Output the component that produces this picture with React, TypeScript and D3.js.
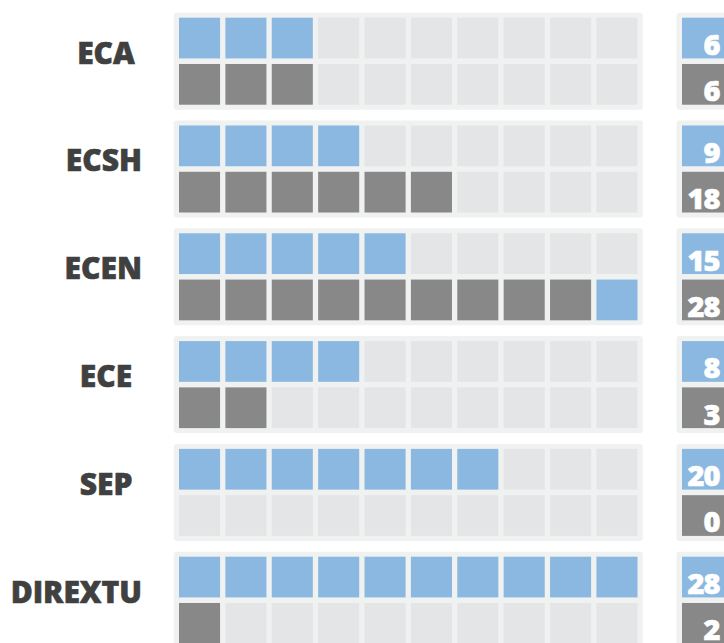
import React, { useEffect, useRef } from 'react';
import * as d3 from 'd3';

const categories = ['ECA', 'ECSH', 'ECEN', 'ECE', 'SEP', 'DIREXTU'];
const blueValues = [6, 9, 15, 8, 20, 28];
const grayValues = [6, 18, 28, 3, 0, 2];
const blueSquares = [3, 4, 5, 4, 7, 10];
const graySquares = [3, 6, 9, 2, 0, 1];
const grayOverflowBlue = [0, 0, 1, 0, 0, 0]; // extra blue squares after the gray ones

const COLS = 10;

const App: React.FC = () => {
  const svgRef = useRef<SVGSVGElement>(null);

  useEffect(() => {
    if (!svgRef.current) return;
    const svg = d3.select(svgRef.current);
    svg.selectAll('*').remove();

    const blue = '#8ab8e0';
    const gray = '#888888';
    const empty = '#e4e5e7';
    const panelBg = '#f0f1f1';
    const labelColor = '#404040';
    const font = '"Open Sans", Lato, sans-serif';

    const rowBand = d3.scaleBand<string>()
      .domain(categories)
      .range([12.7, 648.7])
      .paddingInner(0.1);

    const colBand = d3.scaleBand<number>()
      .domain(d3.range(COLS))
      .range([179, 637.5])
      .paddingInner(0.1145);

    const pad = 5.3;

    const rows = svg.selectAll('g.row')
      .data(categories)
      .enter().append('g')
      .attr('class', 'row')
      .attr('transform', d => `translate(0,${rowBand(d)})`);

    const h = rowBand.bandwidth();
    const subBand = d3.scaleBand<string>()
      .domain(['top', 'bottom'])
      .range([5, h - 5])
      .paddingInner(0.12);

    // panel background
    rows.append('rect')
      .attr('x', colBand(0)! - pad)
      .attr('y', 0)
      .attr('width', colBand(COLS - 1)! + colBand.bandwidth() + pad - (colBand(0)! - pad))
      .attr('height', h)
      .attr('rx', 3)
      .attr('fill', panelBg);

    rows.each(function (cat, i) {
      const g = d3.select(this);
      const cells: { row: string; col: number; fill: string }[] = [];
      for (let c = 0; c < COLS; c++) {
        cells.push({ row: 'top', col: c, fill: c < blueSquares[i] ? blue : empty });
        let f = empty;
        if (c < graySquares[i]) f = gray;
        else if (c < graySquares[i] + grayOverflowBlue[i]) f = blue;
        cells.push({ row: 'bottom', col: c, fill: f });
      }
      g.selectAll('rect.cell')
        .data(cells)
        .enter().append('rect')
        .attr('class', 'cell')
        .attr('x', d => colBand(d.col)!)
        .attr('y', d => subBand(d.row)!)
        .attr('width', colBand.bandwidth())
        .attr('height', subBand.bandwidth())
        .attr('fill', d => d.fill);

      // value box
      const vx = 676.5;
      g.append('rect')
        .attr('x', vx)
        .attr('y', 0)
        .attr('width', 90)
        .attr('height', h)
        .attr('rx', 3)
        .attr('fill', panelBg);

      const vals = [
        { row: 'top', v: blueValues[i], fill: blue },
        { row: 'bottom', v: grayValues[i], fill: gray },
      ];
      g.selectAll('rect.vbox')
        .data(vals)
        .enter().append('rect')
        .attr('class', 'vbox')
        .attr('x', vx + 5.5)
        .attr('y', d => subBand(d.row)!)
        .attr('width', 80)
        .attr('height', subBand.bandwidth())
        .attr('fill', d => d.fill);

      g.selectAll('text.val')
        .data(vals)
        .enter().append('text')
        .attr('class', 'val')
        .attr('x', 719.5)
        .attr('y', d => subBand(d.row)! + subBand.bandwidth() - 3.5)
        .attr('text-anchor', 'end')
        .attr('fill', '#ffffff')
        .attr('stroke', '#ffffff')
        .attr('stroke-width', 0.6)
        .style('font-family', font)
        .style('font-weight', '800')
        .style('font-size', '29px')
        .style('letter-spacing', '-1px')
        .text(d => String(d.v));

      // category label
      const label = g.append('text')
        .attr('y', 51)
        .attr('text-anchor', 'middle')
        .attr('fill', labelColor)
        .attr('stroke', labelColor)
        .attr('stroke-width', 0.6)
        .style('font-family', font)
        .style('font-weight', '800')
        .style('font-size', '30px')
        .text(cat);
      const w = (label.node() as SVGTextElement).getComputedTextLength();
      label.attr('x', Math.min(106, 142 - w / 2));
    });
  }, []);

  return (
    <svg
      ref={svgRef}
      width={724}
      height={643}
      style={{ position: 'absolute', left: 0, top: 0, background: '#ffffff' }}
    />
  );
};

export default App;
